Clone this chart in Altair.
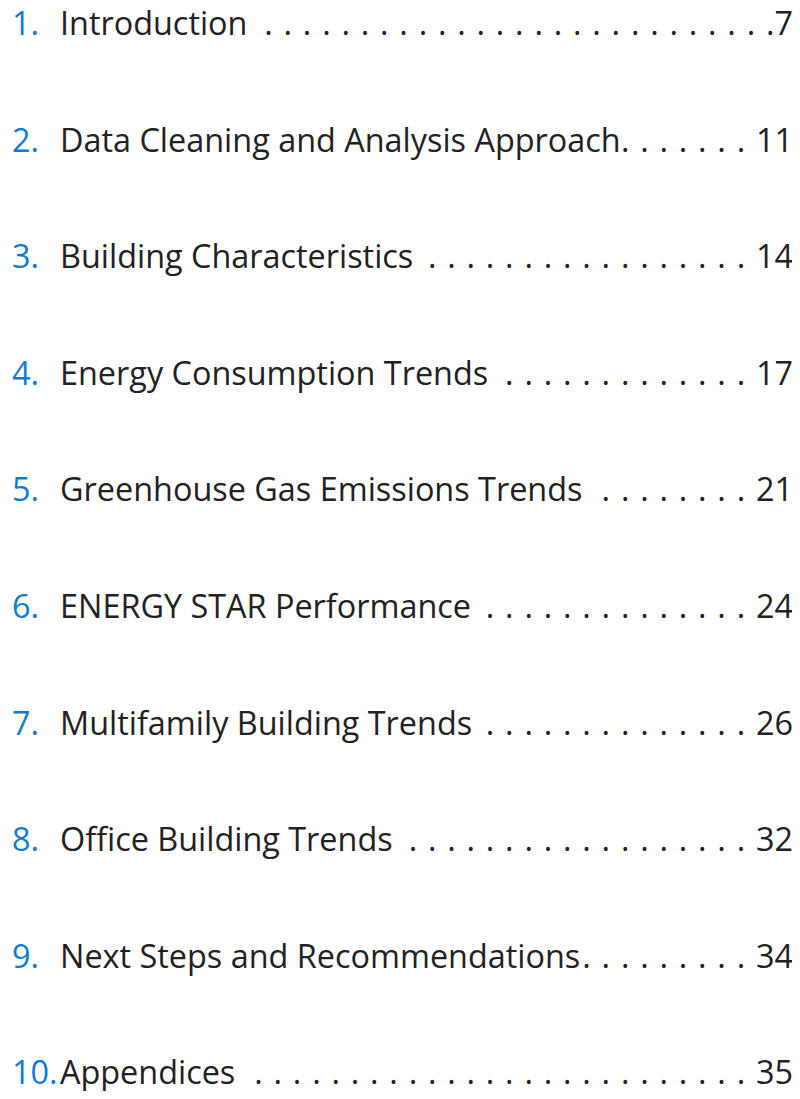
import altair as alt
import pandas as pd

numbers = ["1.", "2.", "3.", "4.", "5.", "6.", "7.", "8.", "9.", "10."]
titles = [
    "Introduction",
    "Data Cleaning and Analysis Approach",
    "Building Characteristics",
    "Energy Consumption Trends",
    "Greenhouse Gas Emissions Trends",
    "ENERGY STAR Performance",
    "Multifamily Building Trends",
    "Office Building Trends",
    "Next Steps and Recommendations",
    "Appendices",
]
pages = ["7", "11", "14", "17", "21", "24", "26", "32", "34", "35"]
leader_dots = [27, 7, 17, 13, 8, 14, 14, 18, 9, 26]
leader_gap = ["", "\u2004", "\u2004", "\u2004", "\u2004", "\u2004", "\u2004", "\u2004", "\u2004", "\u2004"]

df = pd.DataFrame({
    "row": list(range(1, len(titles) + 1)),
    "num": numbers,
    "title": titles,
    "leader": [
        "\u2004".join(["."] * n) + g + p
        for n, g, p in zip(leader_dots, leader_gap, pages)
    ],
})

FONT = "Open Sans"
SIZE = 32.4
W, H = 784, 1083

y = alt.Y("row:Q", scale=alt.Scale(domain=[0.7684, 10.0578], reverse=True), axis=None)

base = alt.Chart(df)
common = dict(baseline="alphabetic", font=FONT, fontSize=SIZE, fontWeight=400)

nums = base.mark_text(align="left", color="#0f7bd6", **common).encode(
    x=alt.value(4), y=y, text="num:N")
tits = base.mark_text(align="left", color="#222222", **common).encode(
    x=alt.value(52), y=y, text="title:N")
lead = base.mark_text(align="right", color="#222222", **common).encode(
    x=alt.value(785), y=y, text="leader:N")

chart = alt.layer(nums, tits, lead).properties(
    width=W, height=H, padding=0, autosize=alt.AutoSizeParams(type="none")
).configure(background="white", view=alt.ViewConfig(stroke=None))

chart.save("out.html", embed_options={"renderer": "svg", "actions": False})
